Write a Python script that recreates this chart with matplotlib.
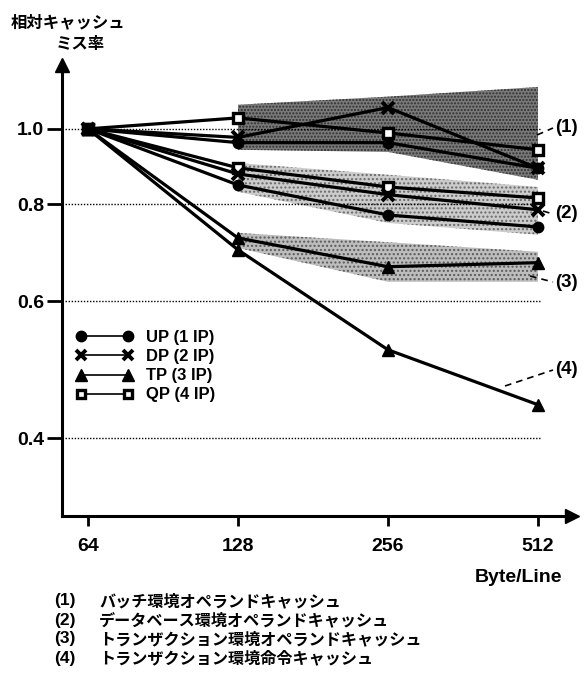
import matplotlib
matplotlib.use("Agg")
import matplotlib.pyplot as plt
from matplotlib.lines import Line2D

plt.rcParams['font.family'] = ['Liberation Sans', 'Noto Sans CJK JP']
plt.rcParams['hatch.linewidth'] = 1.0

# line size (Byte/Line)
sizes = [64, 128, 256, 512]

# (1) batch operand cache
batch_up = [1.0, 0.96, 0.96, 0.89]
batch_dp = [1.0, 0.975, 1.065, 0.89]
batch_qp = [1.0, 1.033, 0.988, 0.94]
# (2) database operand cache
db_up = [1.0, 0.847, 0.775, 0.748]
db_dp = [1.0, 0.875, 0.823, 0.787]
db_qp = [1.0, 0.891, 0.842, 0.815]
# (3) transaction operand cache
tr_op = [1.0, 0.724, 0.665, 0.673]
# (4) transaction instruction cache
tr_inst = [1.0, 0.699, 0.520, 0.442]

# shaded ranges (128..512)
band_x = [128, 256, 512]
band1_hi = [1.074, 1.10, 1.132]
band1_lo = [0.94, 0.934, 0.86]
band2_hi = [0.904, 0.873, 0.842]
band2_lo = [0.83, 0.757, 0.731]
band3_hi = [0.735, 0.715, 0.695]
band3_lo = [0.703, 0.636, 0.636]

yticks = [0.4, 0.6, 0.8, 1.0]
ytick_labels = ['0.4', '0.6', '0.8', '1.0']
legend_labels = ['UP (1 IP)', 'DP (2 IP)', 'TP (3 IP)', 'QP (4 IP)']
notes = ['バッチ環境オペランドキャッシュ',
         'データベース環境オペランドキャッシュ',
         'トランザクション環境オペランドキャッシュ',
         'トランザクション環境命令キャッシュ']

W, H = 585, 677
fig = plt.figure(figsize=(W / 100, H / 100), dpi=100)


def fx(x):
    return x / W


def fy(y):
    return 1 - y / H


ax = fig.add_axes([fx(62), fy(516), (572 - 62) / W, (516 - 65) / H])
ax.set_xscale('log', base=2)
ax.set_yscale('log')
ax.set_xlim(56.76, 599.1)
ax.set_ylim(0.318, 1.208)

# bands
ax.fill_between(band_x, band1_lo, band1_hi, facecolor='#7a7a7a', edgecolor='#303030',
                hatch='.....', linewidth=0, zorder=1)
ax.fill_between(band_x, band2_lo, band2_hi, facecolor='#cccccc', edgecolor='#6a6a6a',
                hatch='....', linewidth=0, zorder=1)
ax.fill_between(band_x, band3_lo, band3_hi, facecolor='#bdbdbd', edgecolor='#5a5a5a',
                hatch='....', linewidth=0, zorder=1)

# dotted reference lines
for v in yticks:
    ax.hlines(v, 56.76, 2 ** (6 + (540 - 88) / 150), colors='black',
              linestyles=(0, (1, 1.2)), linewidth=1.0, zorder=2)

lw = 2.3
sq = dict(marker='s', markersize=7, markerfacecolor='white', markeredgewidth=2.4)
for ys in [batch_qp, db_qp]:
    ax.plot(sizes, ys, color='black', lw=lw, zorder=4, **sq)
for ys in [batch_dp, db_dp]:
    ax.plot(sizes, ys, color='black', lw=lw, marker='x', markersize=8,
            markeredgewidth=2.8, zorder=4)
for ys in [batch_up, db_up]:
    ax.plot(sizes, ys, color='black', lw=lw, marker='o', markersize=7.5, zorder=4)
for ys in [tr_op, tr_inst]:
    ax.plot(sizes, ys, color='black', lw=lw, marker='^', markersize=8.5, zorder=4)

# axes with arrows
for s in ['top', 'right']:
    ax.spines[s].set_visible(False)
for s in ['left', 'bottom']:
    ax.spines[s].set_linewidth(2.2)
ax.plot(0, 1, marker='^', color='black', markersize=10, transform=ax.transAxes,
        clip_on=False)
ax.plot(1, 0, marker='>', color='black', markersize=10, transform=ax.transAxes,
        clip_on=False)

ax.set_yticks(yticks)
ax.set_yticklabels(ytick_labels)
ax.yaxis.set_minor_locator(plt.NullLocator())
ax.set_xticks(sizes)
ax.set_xticklabels([str(s) for s in sizes])
ax.xaxis.set_minor_locator(plt.NullLocator())
ax.tick_params(axis='y', direction='out', length=11, width=2, pad=2,
               labelsize=14)
ax.tick_params(axis='x', direction='out', length=7, width=2, pad=9,
               labelsize=14)
for t in ax.get_xticklabels() + ax.get_yticklabels():
    t.set_fontweight('bold')

# legend
handles = [
    Line2D([], [], color='black', lw=1.2, marker='o', markersize=7.5),
    Line2D([], [], color='black', lw=1.2, marker='x', markersize=7, markeredgewidth=2.8),
    Line2D([], [], color='black', lw=1.2, marker='^', markersize=8),
    Line2D([], [], color='black', lw=1.2, marker='s', markersize=6,
           markerfacecolor='white', markeredgewidth=2.4),
]
ax.legend(handles, legend_labels, loc='upper left', bbox_to_anchor=(fx(76), fy(330)),
          bbox_transform=fig.transFigure, frameon=False, numpoints=2,
          handlelength=3.4, handletextpad=0.8, labelspacing=0.25, borderpad=0,
          borderaxespad=0, prop={'size': 12, 'weight': 'bold'})

# group labels with dashed leaders
labels = [('(1)', 537, 135, 128), ('(2)', 543, 211, 214),
          ('(3)', 530, 276, 282), ('(4)', 505, 386, 370)]
for txt, x0, y0, yl in labels:
    fig.add_artist(Line2D([fx(x0), fx(553)], [fy(y0), fy(yl)], color='black',
                          lw=1.2, linestyle=(0, (4, 3))))
    fig.text(fx(555), fy(yl), txt, ha='left', va='center', fontsize=13.5,
             fontweight='bold')

# titles and notes
fig.text(fx(68), fy(22), '相対キャッシュ', ha='center', va='center', fontsize=11.8,
         fontweight='bold', family=['Noto Sans CJK JP'])
fig.text(fx(80), fy(44), 'ミス率', ha='center', va='center', fontsize=11.8,
         fontweight='bold', family=['Noto Sans CJK JP'])
fig.text(fx(562), fy(578), 'Byte/Line', ha='right', va='center', fontsize=14,
         fontweight='bold')
for i, note in enumerate(notes):
    y = 601 + 19 * i
    fig.text(fx(54), fy(y), '(%d)' % (i + 1), ha='left', va='center', fontsize=12.5,
             fontweight='bold')
    fig.text(fx(99), fy(y), note, ha='left', va='center', fontsize=11.6,
             fontweight='bold', family=['Noto Sans CJK JP'])

fig.savefig('out.png', dpi=100)
